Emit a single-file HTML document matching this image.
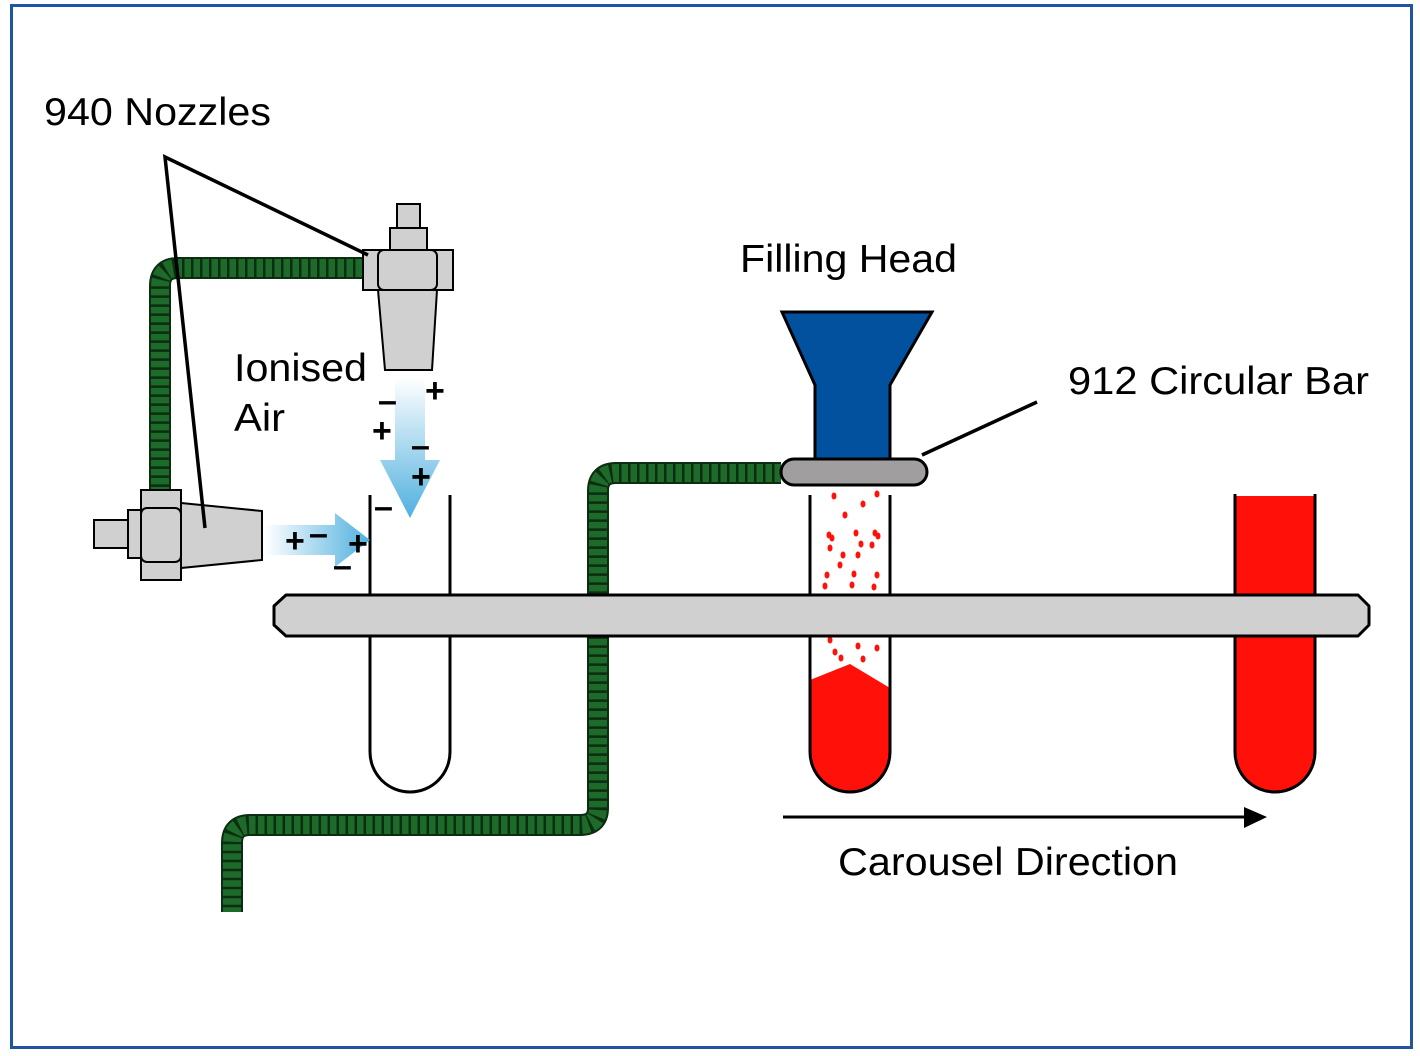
<!DOCTYPE html>
<html><head><style>body{margin:0;background:#fff}svg{display:block}text{font-family:"Liberation Sans",Arial,sans-serif;fill:#000}</style></head>
<body>
<svg width="1420" height="1056" viewBox="0 0 1420 1056" xmlns="http://www.w3.org/2000/svg">
<defs>
<linearGradient id="gv" x1="0" y1="0" x2="0" y2="1"><stop offset="0" stop-color="#fff"/><stop offset="1" stop-color="#4fb0df"/></linearGradient>
<linearGradient id="gh" x1="0" y1="0" x2="1" y2="0"><stop offset="0" stop-color="#fff"/><stop offset="1" stop-color="#4fb0df"/></linearGradient>
</defs>
<rect x="11.5" y="5.5" width="1400" height="1042" fill="#fff" stroke="#1f55a0" stroke-width="3"/>

<!-- hoses -->
<g fill="none" stroke-linejoin="round">
<path d="M362 268 H178 Q160 268 160 286 V492" stroke="#0b2e10" stroke-width="22"/>
<path d="M362 268 H178 Q160 268 160 286 V492" stroke="#1d6a2a" stroke-width="18" stroke-dasharray="6.5 2.5"/>
<path d="M781 473 H616 Q598 473 598 491 V808 Q598 825 580 825 H250 Q232 825 232 843 V912" stroke="#0b2e10" stroke-width="22"/>
<path d="M781 473 H616 Q598 473 598 491 V808 Q598 825 580 825 H250 Q232 825 232 843 V912" stroke="#1d6a2a" stroke-width="18" stroke-dasharray="6.5 2.5"/>
</g>

<path d="M370 495 V752 A40 40 0 0 0 450 752 V495" fill="#fff" stroke="#000" stroke-width="3"/>
<path d="M810 680 L850 664 L890 688 V752 A40 40 0 0 1 810 752 Z" fill="#ff1008"/>
<path d="M810 495 V752 A40 40 0 0 0 890 752 V495" fill="none" stroke="#000" stroke-width="3"/>
<g fill="#ff1008">
<ellipse cx="834" cy="496" rx="2.5" ry="3.5"/><ellipse cx="863" cy="504" rx="2.5" ry="3.5"/><ellipse cx="877" cy="494" rx="2.5" ry="3.5"/><ellipse cx="845" cy="515" rx="2.5" ry="3.5"/>
<ellipse cx="829" cy="535" rx="2.5" ry="3.5"/><ellipse cx="832" cy="538" rx="2.5" ry="3.5"/><ellipse cx="856" cy="533" rx="2.5" ry="3.5"/><ellipse cx="875" cy="533" rx="2.5" ry="3.5"/><ellipse cx="878" cy="536" rx="2.5" ry="3.5"/>
<ellipse cx="830" cy="548" rx="2.5" ry="3.5"/><ellipse cx="861" cy="544" rx="2.5" ry="3.5"/><ellipse cx="872" cy="545" rx="2.5" ry="3.5"/><ellipse cx="843" cy="555" rx="2.5" ry="3.5"/><ellipse cx="858" cy="555" rx="2.5" ry="3.5"/>
<ellipse cx="840" cy="565" rx="2.5" ry="3.5"/><ellipse cx="827" cy="575" rx="2.5" ry="3.5"/><ellipse cx="854" cy="574" rx="2.5" ry="3.5"/><ellipse cx="877" cy="575" rx="2.5" ry="3.5"/><ellipse cx="825" cy="586" rx="2.5" ry="3.5"/><ellipse cx="852" cy="585" rx="2.5" ry="3.5"/><ellipse cx="874" cy="587" rx="2.5" ry="3.5"/>
<ellipse cx="830" cy="640" rx="2.5" ry="3.5"/><ellipse cx="858" cy="646" rx="2.5" ry="3.5"/><ellipse cx="877" cy="648" rx="2.5" ry="3.5"/><ellipse cx="835" cy="652" rx="2.5" ry="3.5"/><ellipse cx="841" cy="658" rx="2.5" ry="3.5"/><ellipse cx="863" cy="659" rx="2.5" ry="3.5"/>
</g>
<path d="M1235 496 V752 A40 40 0 0 0 1315 752 V496 Z" fill="#ff1008"/>
<path d="M1235 494 V752 A40 40 0 0 0 1315 752 V494" fill="none" stroke="#000" stroke-width="3"/>

<path d="M286 595 H1358 L1369 606 V625 L1358 636 H286 L274 625 V606 Z" fill="#d0d0d0" stroke="#000" stroke-width="3" stroke-linejoin="round"/>

<polygon points="782,312 932,312 890,385 890,460 815,460 815,385" fill="#02519f" stroke="#000" stroke-width="3"/>
<rect x="781" y="459" width="146" height="26" rx="13" fill="#a09e9f" stroke="#000" stroke-width="3"/>
<line x1="922" y1="455" x2="1037" y2="402" stroke="#000" stroke-width="3.5"/>

<g fill="#d0d0d0" stroke="#000" stroke-width="2">
<rect x="397" y="204" width="23" height="28"/>
<rect x="390" y="228" width="37" height="22"/>
<polygon points="378,290 437,290 432,370 385,370"/>
<rect x="363" y="250" width="90" height="40"/>
<rect x="378" y="250" width="59" height="40" rx="6"/>
</g>
<g fill="#d0d0d0" stroke="#000" stroke-width="2">
<rect x="94" y="520" width="40" height="28"/>
<rect x="128" y="510" width="14" height="48"/>
<polygon points="181,503 262,511 262,560 181,568"/>
<rect x="141" y="490" width="40" height="90"/>
<rect x="141" y="508" width="40" height="54" rx="6"/>
</g>

<polygon points="395,378 425,378 425,460 440,460 410,518 380,460 395,460" fill="url(#gv)"/>
<polygon points="265,525 335,525 335,513 370,540 335,567 335,555 265,555" fill="url(#gh)"/>
<g font-size="34" font-weight="bold">
<text x="425" y="402">+</text><text x="378" y="412">–</text><text x="372" y="442">+</text>
<text x="411" y="457">–</text><text x="411" y="488">+</text><text x="374" y="518">–</text>
<text x="285" y="552">+</text><text x="309" y="545">–</text><text x="348" y="555">+</text><text x="333" y="577">–</text>
</g>

<polyline points="368,255 165,157 205,528" stroke="#000" stroke-width="3.5" fill="none"/>

<line x1="783" y1="817" x2="1250" y2="817" stroke="#000" stroke-width="3"/>
<polygon points="1244,807 1267,817 1244,828" fill="#000"/>

<g font-size="39">
<text x="44" y="125" textLength="227" lengthAdjust="spacingAndGlyphs">940 Nozzles</text>
<text x="740" y="272" textLength="217" lengthAdjust="spacingAndGlyphs">Filling Head</text>
<text x="1068" y="394" textLength="301" lengthAdjust="spacingAndGlyphs">912 Circular Bar</text>
<text x="234" y="381" textLength="133" lengthAdjust="spacingAndGlyphs">Ionised</text>
<text x="234" y="431" textLength="51" lengthAdjust="spacingAndGlyphs">Air</text>
<text x="838" y="875" textLength="340" lengthAdjust="spacingAndGlyphs">Carousel Direction</text>
</g>
</svg>
</body></html>
